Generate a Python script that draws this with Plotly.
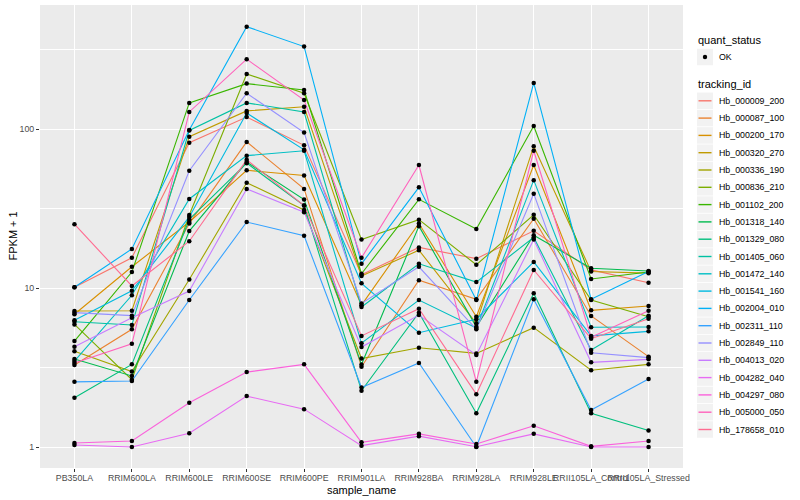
import plotly.graph_objects as go

samples = ["PB350LA", "RRIM600LA", "RRIM600LE", "RRIM600SE", "RRIM600PE", "RRIM901LA",
           "RRIM928BA", "RRIM928LA", "RRIM928LE", "RRII105LA_Control", "RRII105LA_Stressed"]

tracking_ids = ["Hb_000009_200", "Hb_000087_100", "Hb_000200_170", "Hb_000320_270", "Hb_000336_190",
                "Hb_000836_210", "Hb_001102_200", "Hb_001318_140", "Hb_001329_080", "Hb_001405_060",
                "Hb_001472_140", "Hb_001541_160", "Hb_002004_010", "Hb_002311_110", "Hb_002849_110",
                "Hb_004013_020", "Hb_004282_040", "Hb_004297_080", "Hb_005000_050", "Hb_178658_010"]

colors = ["#F8766D", "#EA8331", "#D89000", "#C09B00", "#A3A500", "#7CAE00", "#39B600", "#00BB4E",
          "#00BF7D", "#00C1A3", "#00BFC4", "#00BAE0", "#00B0F6", "#35A2FF", "#9590FF", "#C77CFF",
          "#E76BF3", "#FA62DB", "#FF62BC", "#FF6C91"]

# FPKM + 1 per tracking id, in sample order
Hb_000009_200 = [10.1, 15.5, 82, 119, 79, 12.1, 18, 15.3, 22.9, 13, 10.8]
Hb_000087_100 = [3.28, 5.5, 25.5, 83, 42, 3.2, 11.2, 8.5, 27.3, 6.67, 3.7]
Hb_000200_170 = [6.84, 13.6, 26, 55, 51, 7.8, 25.5, 6.6, 59.4, 7.24, 7.7]
Hb_000320_270 = [7.17, 7.2, 89.5, 130, 138, 11.9, 17.3, 6.0, 78, 12.7, 12.4]
Hb_000336_190 = [4.0, 2.98, 11.3, 46, 31, 3.6, 4.21, 3.88, 5.63, 3.04, 3.31]
Hb_000836_210 = [5.9, 2.65, 28.8, 222, 168, 20.2, 26.9, 14, 28.9, 8.4, 6.6]
Hb_001102_200 = [4.64, 12.6, 146, 193, 176, 12.3, 36.1, 23.5, 104.5, 11.4, 12.6]
Hb_001318_140 = [3.58, 2.8, 22.8, 62, 36, 3.3, 24.5, 5.7, 21.5, 13.3, 12.8]
Hb_001329_080 = [2.04, 3.31, 27, 61, 33, 2.26, 7.0, 1.63, 9.26, 1.63, 1.27]
Hb_001405_060 = [6.14, 5.85, 98, 146, 128, 7.6, 14.2, 10.9, 20.8, 4.07, 6.7]
Hb_001472_140 = [3.47, 9.0, 36.3, 68, 73, 4.5, 8.4, 5.6, 47.7, 5.66, 5.69]
Hb_001541_160 = [6.27, 9.6, 28, 126, 74, 10.7, 5.23, 6.36, 14.6, 5.0, 5.34]
Hb_002004_010 = [10.1, 17.6, 98.6, 440, 330, 14.2, 43, 8.4, 195, 8.5, 12.7]
Hb_002311_110 = [2.57, 2.6, 8.4, 26, 21.3, 2.37, 3.38, 1.0, 8.5, 1.71, 2.68]
Hb_002849_110 = [7.0, 6.7, 54.7, 168, 95, 8.0, 13.6, 5.5, 39.2, 3.92, 3.65]
Hb_004013_020 = [4.27, 6.5, 9.58, 42, 30, 4.25, 6.76, 3.79, 20.2, 3.41, 3.56]
Hb_004282_040 = [1.03, 1.0, 1.22, 2.09, 1.73, 1.02, 1.17, 1.005, 1.21, 1.0, 1.0]
Hb_004297_080 = [1.06, 1.09, 1.9, 2.96, 3.31, 1.07, 1.21, 1.045, 1.36, 1.01, 1.09]
Hb_005000_050 = [3.38, 4.46, 128, 275, 152, 15.5, 59.4, 2.57, 73, 4.9, 7.2]
Hb_178658_010 = [25.2, 10.3, 19.7, 64, 33, 5.0, 7.4, 2.15, 13, 4.8, 6.4]

series = [Hb_000009_200, Hb_000087_100, Hb_000200_170, Hb_000320_270, Hb_000336_190,
          Hb_000836_210, Hb_001102_200, Hb_001318_140, Hb_001329_080, Hb_001405_060,
          Hb_001472_140, Hb_001541_160, Hb_002004_010, Hb_002311_110, Hb_002849_110,
          Hb_004013_020, Hb_004282_040, Hb_004297_080, Hb_005000_050, Hb_178658_010]

status_levels = ["OK"]

y_ticks = [1, 10, 100]
y_minor = [10 ** (k + 0.5) for k in range(-1, 3)]

FONT = "Liberation Sans, Arial, Helvetica, sans-serif"

# page geometry (pixels)
W, H = 800, 500
ML, MR, MT, MB = 40, 117, 5, 32
PW, PH = W - ML - MR, H - MT - MB


def px_x(px):
    return (px - ML) / PW


def px_y(py):
    return (H - MB - py) / PH


fig = go.Figure()
for tid, vals, col in zip(tracking_ids, series, colors):
    fig.add_trace(go.Scatter(
        x=samples, y=vals, mode="lines", name=tid,
        line=dict(color=col, width=1.1), showlegend=False,
    ))

all_x = [s for vals in series for s in samples]
all_y = [v for vals in series for v in vals]
fig.add_trace(go.Scatter(
    x=all_x, y=all_y, mode="markers", name=status_levels[0],
    marker=dict(color="black", size=4.5), showlegend=False,
))

# ---- ggplot-style legend drawn in paper coordinates ----
shapes = []
annotations = []
LEG_X = 696          # left of legend titles
KEY_L, KEY_R = 697, 713
TEXT_X = 717
ROW = 17.3
KEY_H = 16.5


def add_key_box(cy):
    shapes.append(dict(type="rect", xref="paper", yref="paper",
                       x0=px_x(KEY_L), x1=px_x(KEY_R),
                       y0=px_y(cy + KEY_H / 2), y1=px_y(cy - KEY_H / 2),
                       fillcolor="#F2F2F2", line=dict(width=0), layer="below"))


annotations.append(dict(text="quant_status", xref="paper", yref="paper",
                        x=px_x(LEG_X), y=px_y(40.5), xanchor="left", yanchor="middle",
                        showarrow=False, font=dict(size=11, color="black")))
for j, lev in enumerate(status_levels):
    cy = 57 + j * ROW
    add_key_box(cy)
    r = 2.2
    cx = (KEY_L + KEY_R) / 2
    shapes.append(dict(type="circle", xref="paper", yref="paper",
                       x0=px_x(cx - r), x1=px_x(cx + r), y0=px_y(cy + r), y1=px_y(cy - r),
                       fillcolor="black", line=dict(width=0)))
    annotations.append(dict(text=lev, xref="paper", yref="paper",
                            x=px_x(TEXT_X), y=px_y(cy), xanchor="left", yanchor="middle",
                            showarrow=False, font=dict(size=8.8, color="black")))

annotations.append(dict(text="tracking_id", xref="paper", yref="paper",
                        x=px_x(LEG_X), y=px_y(84.5), xanchor="left", yanchor="middle",
                        showarrow=False, font=dict(size=11, color="black")))
for i, (tid, col) in enumerate(zip(tracking_ids, colors)):
    cy = 100.8 + i * ROW
    add_key_box(cy)
    shapes.append(dict(type="line", xref="paper", yref="paper",
                       x0=px_x(KEY_L + 1.5), x1=px_x(KEY_R - 1.5), y0=px_y(cy), y1=px_y(cy),
                       line=dict(color=col, width=1.4)))
    annotations.append(dict(text=tid, xref="paper", yref="paper",
                            x=px_x(TEXT_X), y=px_y(cy), xanchor="left", yanchor="middle",
                            showarrow=False, font=dict(size=8.8, color="black")))

# axis titles
annotations.append(dict(text="sample_name", xref="paper", yref="paper",
                        x=0.5, y=px_y(489.5), xanchor="center", yanchor="middle",
                        showarrow=False, font=dict(size=11, color="black")))
annotations.append(dict(text="FPKM + 1", xref="paper", yref="paper",
                        x=px_x(12), y=0.5, xanchor="center", yanchor="middle", textangle=-90,
                        showarrow=False, font=dict(size=11, color="black")))

fig.update_layout(
    width=W, height=H,
    margin=dict(l=ML, r=MR, t=MT, b=MB),
    paper_bgcolor="white", plot_bgcolor="#EBEBEB",
    font=dict(family=FONT, size=10, color="black"),
    showlegend=False,
    shapes=shapes, annotations=annotations,
)
fig.update_xaxes(
    type="category", categoryorder="array", categoryarray=samples,
    range=[-0.6, len(samples) - 0.4], automargin=False,
    showgrid=True, gridcolor="white", gridwidth=1.1, zeroline=False,
    ticks="outside", ticklen=3, tickcolor="#333333", tickangle=0,
    ticklabelstandoff=-2,
    tickfont=dict(size=8.8, color="#4D4D4D"),
    showline=False,
)
fig.update_yaxes(
    type="log", range=[-0.132, 2.78], automargin=False,
    tickmode="array", tickvals=y_ticks, ticktext=[str(t) for t in y_ticks],
    showgrid=True, gridcolor="white", gridwidth=1.1, zeroline=False,
    ticks="outside", ticklen=3, tickcolor="#333333",
    tickfont=dict(size=8.8, color="#4D4D4D"),
    minor=dict(tickmode="array", tickvals=y_minor, showgrid=True, gridcolor="white",
               gridwidth=0.55, ticks=""),
    showline=False,
)

fig.write_html("out.html", config={"displayModeBar": False},
               post_script="document.body.style.margin='0';document.body.style.overflow='hidden';")
